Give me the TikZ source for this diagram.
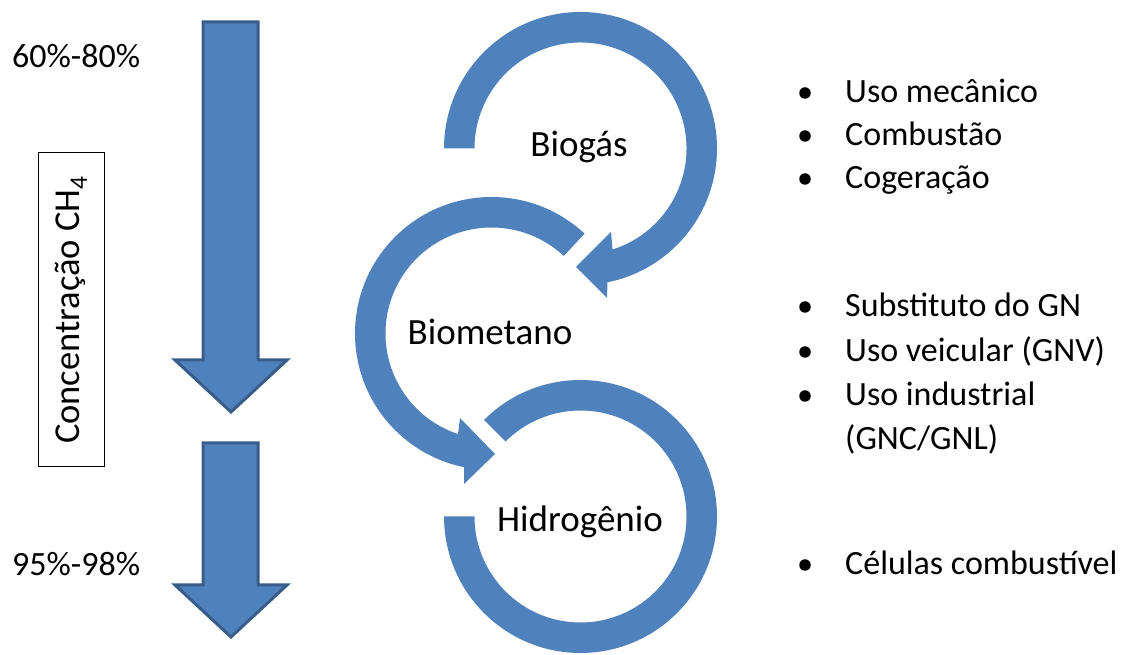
\documentclass[tikz,border=0pt]{standalone}
\usepackage{fontspec}
\setmainfont{Carlito}
\usetikzlibrary{calc}
\definecolor{loopblue}{HTML}{4F81BD}
\definecolor{edgeblue}{HTML}{385D8A}

\begin{document}
\begin{tikzpicture}[x=1pt,y=1pt,
        txt/.style={font=\fontsize{34}{40}\selectfont, inner sep=0pt},
        bigtxt/.style={font=\fontsize{37}{44}\selectfont, inner sep=0pt},
        bigarrow/.style={fill=loopblue, draw=edgeblue, line width=3pt},
        loopband/.style={fill=loopblue},
        dot/.style={circle, fill=black, inner sep=0pt, minimum size=11.5pt}]
        \useasboundingbox (0,0) rectangle (1135,655);
        % concentration arrows
        \draw[bigarrow] (203,633) -- (258,633) -- (258,295) -- (287,295) -- (231,243) -- (175,295) -- (203,295) -- cycle;
        \draw[bigarrow] (203,212) -- (258,212) -- (258,70) -- (287,70) -- (231,18) -- (175,70) -- (203,70) -- cycle;
        \node[txt, anchor=base west](p60) at (12,587) {60\%-80\%};
        \node[txt, anchor=base west](p95) at (12,79) {95\%-98\%};
        \node[txt, font=\fontsize{36.5}{44}\selectfont, draw, line width=1pt, rotate=90, minimum width=314pt, minimum height=66pt](conc) at (71,345) {Concentração CH\textsubscript{4}};
        % circular arrows
        \coordinate(c1) at (580.5,506.5);
        \coordinate(c2) at (491.5,321.5);
        \coordinate(c3) at (580.5,138.5);
        \fill[loopband] ($(c1)+(180:136.5)$) arc[start angle=180, end angle=-78.6, radius=136.5]
            -- ($(c1)+(26.5,-149.5)$) -- ($(c1)+(-4.5,-118.5)$) -- ($(c1)+(30.5,-83.5)$)
            -- ($(c1)+(-72.4:106)$) arc[start angle=-72.4, end angle=180, radius=106] -- cycle;
        \fill[loopband] ($(c2)+(47:136.5)$) arc[start angle=47, end angle=258.4, radius=136.5]
            -- ($(c2)+(-27.5,-150.5)$) -- ($(c2)+(3.5,-120.5)$) -- ($(c2)+(-31.5,-84.5)$)
            -- ($(c2)+(251.6:106)$) arc[start angle=251.6, end angle=47, radius=106] -- cycle;
        \fill[loopband] ($(c3)+(135:136.5)$) arc[start angle=135, end angle=-180, radius=136.5]
            -- ($(c3)+(180:106)$) arc[start angle=-180, end angle=135, radius=106] -- cycle;
        \node[bigtxt, anchor=base](biogas) at (579,498) {Biogás};
        \node[bigtxt, anchor=base](biometano) at (490,310) {Biometano};
        \node[bigtxt, anchor=base](hidrogenio) at (580,123) {Hidrogênio};
        % uses
        \node[dot](d1) at (805,562) {};
        \node[dot](d2) at (805,519) {};
        \node[dot](d3) at (805,476) {};
        \node[dot](d4) at (805,348) {};
        \node[dot](d5) at (805,303) {};
        \node[dot](d6) at (805,259) {};
        \node[dot](d7) at (805,90) {};
        \node[txt, anchor=base west](u1) at (845,552) {Uso mecânico};
        \node[txt, anchor=base west](u2) at (845,509) {Combustão};
        \node[txt, anchor=base west](u3) at (845,466) {Cogeração};
        \node[txt, anchor=base west](u4) at (845,338) {Substituto do GN};
        \node[txt, anchor=base west](u5) at (845,293) {Uso veicular (GNV)};
        \node[txt, anchor=base west](u6) at (845,249) {Uso industrial};
        \node[txt, anchor=base west](u7) at (845,205) {(GNC/GNL)};
        \node[txt, anchor=base west](u8) at (845,80) {Células combustível};
\end{tikzpicture}
\end{document}
